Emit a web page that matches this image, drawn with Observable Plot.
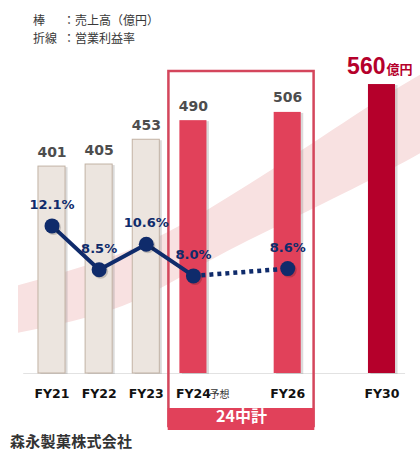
<!DOCTYPE html>
<html><head><meta charset="utf-8">
<script src="https://cdn.jsdelivr.net/npm/d3@7"></script>
<script src="https://cdn.jsdelivr.net/npm/@observablehq/plot@0.6"></script>
<style>
body{margin:0;background:#fff;width:420px;height:450px;overflow:hidden;font-family:"Noto Sans CJK JP",sans-serif;}
#head{height:44px;box-sizing:border-box;padding:11px 0 0 33px;font-size:12px;line-height:17.5px;color:#383838;}
#head .k{display:inline-block;width:30px;}
#chart{height:388px;}
#foot{height:18px;line-height:18px;padding-left:10px;font-size:15px;font-weight:bold;color:#333;letter-spacing:0.3px;}
</style></head><body>
<div id="head"><div><span class="k">棒</span>：売上高（億円）</div><div><span class="k">折線</span>：営業利益率</div></div>
<div id="chart"></div>
<div id="foot">森永製菓株式会社</div>
<script>
// ---- data ----
const slots = ["FY21","FY22","FY23","FY24","","FY26","","FY30"];   // timeline slots (blank = gap)
const categories = ["FY21","FY22","FY23","FY24","FY26","FY30"];
const sales = [401, 405, 453, 490, 506, 560];                        // 売上高（億円）
const kinds = ["actual","actual","actual","plan","plan","target"];
const marginCats = ["FY21","FY22","FY23","FY24","FY26"];
const marginPct = [12.1, 8.5, 10.6, 8.0, 8.6];                        // 営業利益率（%）
const solidUntil = "FY24";
const tickNotes = {FY24: "予想"};
const planLabel = "24中計";
const targetUnit = "億円";
// decorative growth swoosh (x in slot units, y in 億円 units)
const bandX = [-0.71, 1.5, 3.3, 5.06, 6.76, 7.82];
const bandTop = [170, 233, 316, 417, 519, 578];
const bandBottom = [78, 130, 215, 297, 374, 426];

// ---- derived ----
const PCT_K = 23.64; // secondary-axis factor: % -> 億円 units
const idx = c => slots.indexOf(c);
const rows = categories.map((c, i) => ({c, i: idx(c), v: sales[i], kind: kinds[i]}));
const lineRows = marginCats.map((c, i) => ({c, i: idx(c), p: marginPct[i]}));
const cut = marginCats.indexOf(solidUntil);
const band = bandX.map((x, i) => ({x, y1: bandBottom[i], y2: bandTop[i]}));
const HW = 0.287;
const fillFor = {actual: "#ece5df", plan: "#e1415a", target: "#b5002b"};
const navy = "#0f2b6b";
const iA = idx("FY24"), iB = idx("FY26");

const chart = Plot.plot({
  width: 420, height: 388,
  marginTop: 0, marginBottom: 0, marginLeft: 0, marginRight: 0,
  x: {type: "linear", domain: [-1.0925, 7.817], range: [0, 420], axis: null},
  y: {domain: [0, 600], range: [329, 19.4], axis: null},
  style: {overflow: "visible", background: "transparent"},
  marks: [
    Plot.areaY(band, {x: "x", y1: "y1", y2: "y2", fill: "#f8e1e1", curve: "natural"}),
    Plot.ruleY([0], {x1: -0.6, x2: 7.5, stroke: "#e2e2e2"}),
    Plot.rect([0], {x1: iA - 0.52, x2: iB + 0.56, insetTop: 27, insetBottom: 6, fill: "none", stroke: "#d4465c", strokeWidth: 2.5}),
    Plot.rect([0], {x1: iA - 0.535, x2: iB + 0.575, insetTop: 364, insetBottom: 2, fill: "#e1415a"}),
    Plot.text([planLabel], {x: (iA + iB) / 2 + 0.02, frameAnchor: "bottom", dy: -11, text: d => d, fill: "white", fontSize: 16, fontWeight: "bold", fontFamily: "Noto Sans CJK JP"}),
    // bar shadows
    Plot.rectY(rows, {x1: d => d.i - HW, x2: d => d.i + HW, y: "v", dx: 2.5, dy: 1, fill: "#888", fillOpacity: 0.3}),
    Plot.rectY(rows.filter(d => d.kind === "actual"), {x1: d => d.i - HW, x2: d => d.i + HW, y: "v", fill: fillFor.actual, stroke: "#c2b2a4", strokeWidth: 1}),
    Plot.rectY(rows.filter(d => d.kind !== "actual"), {x1: d => d.i - HW, x2: d => d.i + HW, y: "v", fill: d => fillFor[d.kind]}),
    // value labels
    Plot.text(rows.filter(d => d.kind !== "target"), {x: "i", y: "v", text: d => String(d.v), dy: -10, lineAnchor: "bottom", fontSize: 14, fontWeight: "bold", fill: "#4d4d4d", fontFamily: "DejaVu Sans"}),
    Plot.text(rows.filter(d => d.kind === "target"), {x: "i", y: "v", text: d => String(d.v), textAnchor: "end", dx: 3.5, dy: -11, lineAnchor: "bottom", fontSize: 23, fontWeight: "bold", fill: "#b5002b", fontFamily: "Liberation Sans"}),
    Plot.text(rows.filter(d => d.kind === "target"), {x: "i", y: "v", text: () => targetUnit, textAnchor: "start", dx: 4.5, dy: -11, lineAnchor: "bottom", fontSize: 13, fontWeight: "bold", fill: "#b5002b", fontFamily: "Noto Sans CJK JP"}),
    // margin line
    Plot.line(lineRows.slice(0, cut + 1), {x: "i", y: d => d.p * PCT_K, stroke: navy, strokeWidth: 4}),
    Plot.line(lineRows.slice(cut), {x: "i", y: d => d.p * PCT_K, stroke: navy, strokeWidth: 4.5, strokeDasharray: "4,4", strokeLinecap: "butt"}),
    Plot.dot(lineRows, {x: "i", y: d => d.p * PCT_K, r: 7.5, fill: "#000", fillOpacity: 0.18, dx: 1.5, dy: 1.5}),
    Plot.dot(lineRows, {x: "i", y: d => d.p * PCT_K, r: 7.5, fill: navy}),
    Plot.text(lineRows, {x: "i", y: d => d.p * PCT_K, text: d => d.p.toFixed(1) + "%", dy: -21, fontSize: 13, fontWeight: "bold", fill: navy, fontFamily: "DejaVu Sans"}),
    // category ticks
    Plot.text(categories, {x: idx, frameAnchor: "bottom", dy: -34.5, lineAnchor: "bottom", text: d => d, fontSize: 12.5, fontWeight: "bold", fill: "#111", fontFamily: "DejaVu Sans"}),
    Plot.text(Object.keys(tickNotes), {x: idx, frameAnchor: "bottom", dy: -35, dx: 16, lineAnchor: "bottom", textAnchor: "start", text: d => tickNotes[d], fontSize: 10, fill: "#333", fontFamily: "Noto Sans CJK JP"})
  ]
});
document.getElementById("chart").append(chart);
</script>
</body></html>
